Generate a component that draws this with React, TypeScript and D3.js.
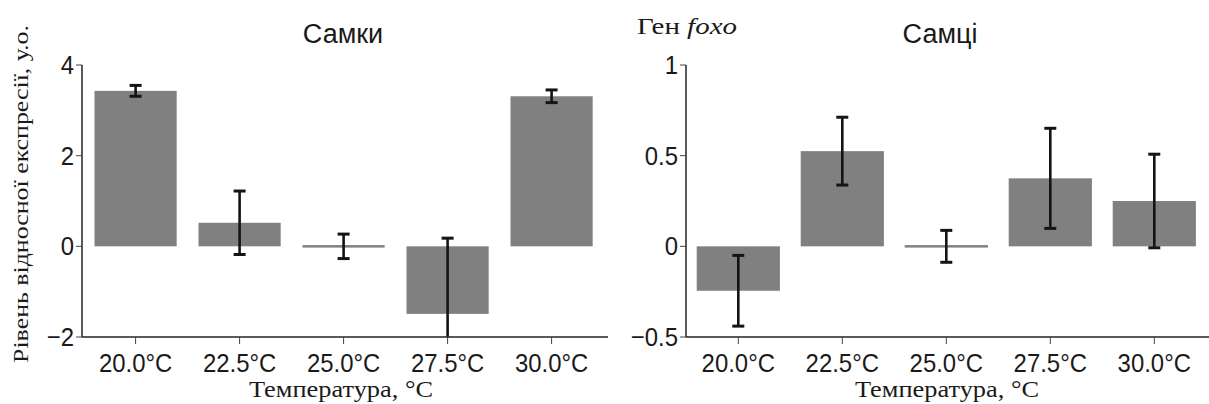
import React from 'react';
import * as d3 from 'd3';

const categories = ['20.0°C', '22.5°C', '25.0°C', '27.5°C', '30.0°C'];
const femaleMeans = [3.43, 0.52, 0, -1.49, 3.31];
const femaleErrors = [0.12, 0.7, 0.27, 1.67, 0.14];
const maleMeans = [-0.245, 0.525, 0, 0.375, 0.25];
const maleErrors = [0.195, 0.187, 0.088, 0.276, 0.258];
const femaleTicks = [-2, 0, 2, 4];
const maleTicks = [-0.5, 0, 0.5, 1];
const femaleTickLabels = ['−2', '0', '2', '4'];
const maleTickLabels = ['−0.5', '0', '0.5', '1'];

const SANS = '"Liberation Sans", Arial, sans-serif';
const SERIF = '"Liberation Serif", "Times New Roman", serif';

type PanelProps = {
  axisX: number;
  axisEnd: number;
  range: [number, number];
  padInner: number;
  domain: [number, number];
  means: number[];
  errors: number[];
  ticks: number[];
  tickLabels: string[];
  title: string;
  titleX: number;
  xTitleX: number;
};

const TOP = 65;
const BOTTOM = 337;

function SText(props: { x: number; y: number; anchor?: string; size?: number; sx?: number; children: React.ReactNode }) {
  const { x, y, anchor = 'middle', size = 26, sx = 0.92, children } = props;
  return (
    <text
      transform={`translate(${x},${y}) scale(${sx},1)`}
      textAnchor={anchor as any}
      fontSize={size}
      fontFamily={SANS}
      fill="#1a1a1a"
    >
      {children}
    </text>
  );
}

function Panel(p: PanelProps) {
  const x = d3
    .scaleBand<string>()
    .domain(categories)
    .range(p.range)
    .paddingInner(p.padInner)
    .paddingOuter(p.padInner / 2);
  const y = d3.scaleLinear().domain(p.domain).range([BOTTOM, TOP]);
  const bw = x.bandwidth();
  const y0 = y(0);
  const [dmin, dmax] = p.domain;
  return (
    <g>
      {categories.map((c, i) => {
        const v = p.means[i];
        const top = Math.min(y(v), y0);
        const h = Math.abs(y(v) - y0);
        const hh = Math.max(h, 2.5);
        const yy = h < 2.5 ? y0 - 1.25 : top;
        return <rect key={c} x={x(c)!} y={yy} width={bw} height={hh} fill="#808080" />;
      })}
      {categories.map((c, i) => {
        const cx = x(c)! + bw / 2;
        const hi = p.means[i] + p.errors[i];
        const lo = p.means[i] - p.errors[i];
        const hiC = Math.min(hi, dmax);
        const loC = Math.max(lo, dmin);
        return (
          <g key={c} stroke="#141414">
            <line x1={cx} x2={cx} y1={y(hiC)} y2={y(loC)} strokeWidth={2.6} />
            {hi <= dmax && <line x1={cx - 6} x2={cx + 6} y1={y(hi)} y2={y(hi)} strokeWidth={3} />}
            {lo >= dmin && <line x1={cx - 6} x2={cx + 6} y1={y(lo)} y2={y(lo)} strokeWidth={3} />}
          </g>
        );
      })}
      <line x1={p.axisX} x2={p.axisX} y1={y(dmax)} y2={y(dmin)} stroke="#222" strokeWidth={1.5} />
      <line x1={p.axisX} x2={p.axisEnd} y1={BOTTOM} y2={BOTTOM} stroke="#222" strokeWidth={1.5} />
      {p.ticks.map((t, i) => (
        <g key={t}>
          <line x1={p.axisX - 6} x2={p.axisX} y1={y(t)} y2={y(t)} stroke="#444" strokeWidth={1} />
          <SText x={p.axisX - 8} y={y(t) + 9} anchor="end">
            {p.tickLabels[i]}
          </SText>
        </g>
      ))}
      {categories.map((c) => {
        const cx = x(c)! + bw / 2;
        return (
          <g key={c}>
            <line x1={cx} x2={cx} y1={BOTTOM} y2={BOTTOM + 7} stroke="#444" strokeWidth={1} />
            <SText x={cx} y={372}>
              {c}
            </SText>
          </g>
        );
      })}
      <SText x={p.titleX} y={43} size={27} sx={1}>
        {p.title}
      </SText>
      <text
        x={p.xTitleX}
        y={397}
        textAnchor="middle"
        fontSize={23}
        fontFamily={SERIF}
        fill="#1a1a1a"
        textLength={184}
        lengthAdjust="spacingAndGlyphs"
      >
        Температура, °C
      </text>
    </g>
  );
}

export default function App() {
  return (
    <svg
      width={1209}
      height={404}
      viewBox="0 0 1209 404"
      style={{ position: 'absolute', left: 0, top: 0, background: '#fff' }}
    >
      <rect x={0} y={0} width={1209} height={404} fill="#fff" />
      <Panel
        axisX={82}
        axisEnd={608}
        range={[83.6, 603.6]}
        padInner={0.21}
        domain={[-2, 4]}
        means={femaleMeans}
        errors={femaleErrors}
        ticks={femaleTicks}
        tickLabels={femaleTickLabels}
        title="Самки"
        titleX={343}
        xTitleX={341}
      />
      <Panel
        axisX={686}
        axisEnd={1209}
        range={[686.3, 1206.3]}
        padInner={0.2}
        domain={[-0.5, 1]}
        means={maleMeans}
        errors={maleErrors}
        ticks={maleTicks}
        tickLabels={maleTickLabels}
        title="Самці"
        titleX={940}
        xTitleX={947}
      />
      <text
        transform="translate(28,194) rotate(-90)"
        textAnchor="middle"
        fontSize={22}
        fontFamily={SERIF}
        fill="#1a1a1a"
        textLength={338}
        lengthAdjust="spacingAndGlyphs"
      >
        Рівень відносної експресії, у.о.
      </text>
      <text x={637} y={34} fontSize={23} fontFamily={SERIF} fill="#1a1a1a" textLength={100} lengthAdjust="spacingAndGlyphs">
        Ген <tspan fontStyle="italic">foxo</tspan>
      </text>
    </svg>
  );
}
